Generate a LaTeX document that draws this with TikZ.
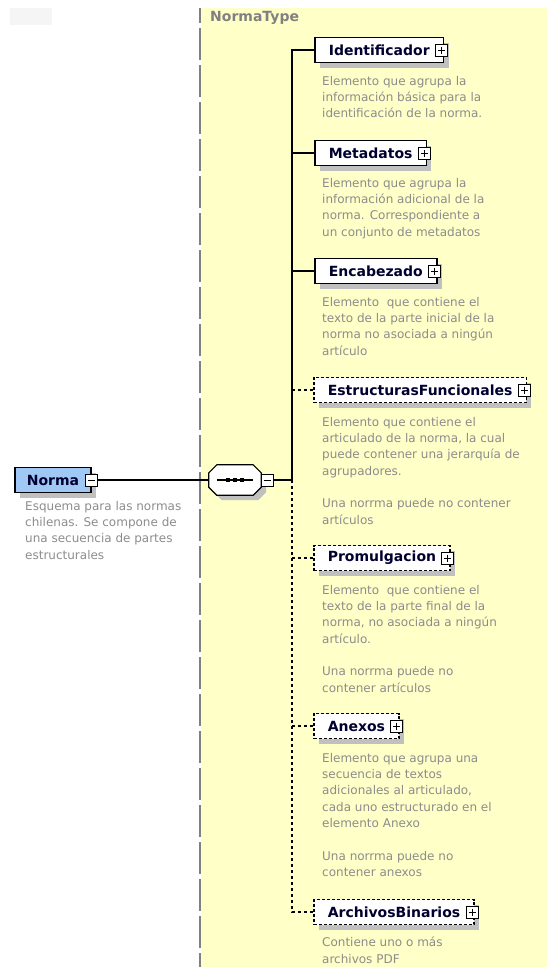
\documentclass[tikz,border=0pt]{standalone}
\usepackage{fontspec}
\setmainfont{DejaVu Sans}
\usetikzlibrary{shadows}

\definecolor{panelyellow}{RGB}{255,255,200}
\definecolor{panelgrey}{RGB}{128,128,128}
\definecolor{shadowgrey}{RGB}{192,192,192}
\definecolor{descgrey}{RGB}{140,140,140}
\definecolor{namenavy}{RGB}{0,0,48}
\definecolor{rootblue}{RGB}{160,200,245}

\tikzset{
	elem/.style={draw, line width=1.6pt, fill=white, text=namenavy,
		font=\bfseries\fontsize{14}{16}\selectfont, minimum height=25pt,
		inner xsep=14pt, inner ysep=0pt, anchor=west,
		drop shadow={shadow xshift=5pt, shadow yshift=-5pt, fill=shadowgrey, opacity=1}},
	optelem/.style={elem, dash pattern=on 3pt off 2pt},
	rootelem/.style={elem, fill=rootblue, inner xsep=12pt},
	minusbox/.style={draw, solid, line width=0.8pt, fill=white, minimum width=12pt,
		minimum height=12pt, inner sep=0pt,
		path picture={\draw[line width=0.9pt] ([xshift=2.5pt]path picture bounding box.west)
			-- ([xshift=-2.5pt]path picture bounding box.east);}},
	plusbox/.style={minusbox,
		path picture={\draw[line width=0.9pt] ([xshift=2.5pt]path picture bounding box.west)
			-- ([xshift=-2.5pt]path picture bounding box.east)
			([yshift=-2.5pt]path picture bounding box.north)
			-- ([yshift=2.5pt]path picture bounding box.south);}},
	seqbox/.style={minimum width=52pt, minimum height=30pt, inner sep=0pt},
	desc/.style={text=descgrey, font=\fontsize{12}{16.3}\selectfont, align=left,
		anchor=north west, inner sep=0pt},
	conn/.style={line width=1.5pt},
	optconn/.style={conn, dash pattern=on 3pt off 3pt},
}

\begin{document}
\begin{tikzpicture}[x=1pt, y=-1pt]
	\useasboundingbox (0,0) rectangle (547,967);
	\fill[black!4] (10,8) rectangle (52,25);
	\fill[panelyellow] (201,8) rectangle (547,967);
	\draw[panelgrey, line width=1.5pt, dash pattern=on 32pt off 5pt, dash phase=17pt] (200,8) -- (200,967);
	\node[anchor=base west, inner sep=0pt, text=panelgrey, font=\bfseries\fontsize{14}{16}\selectfont] (type) at (210,21) {NormaType};

	\node[rootelem] (norma) at (14,480) {Norma};
	\node[minusbox] (normax) at (norma.east) {};
	\node[desc] (normad) at (25,501) {Esquema para las normas\\chilenas. Se compone de\\una secuencia de partes\\estructurales};

	\node[seqbox] (seq) at (235,480) {};
	\fill[shadowgrey, transform canvas={shift={(5pt,-5pt)}}] ([xshift=8pt]seq.north west) -- ([xshift=-8pt]seq.north east)
		-- ([yshift=-8pt]seq.north east) -- ([yshift=8pt]seq.south east) -- ([xshift=-8pt]seq.south east)
		-- ([xshift=8pt]seq.south west) -- ([yshift=8pt]seq.south west) -- ([yshift=-8pt]seq.north west) -- cycle;
	\draw[fill=white, line width=1.2pt] ([xshift=8pt]seq.north west) -- ([xshift=-8pt]seq.north east)
		-- ([yshift=-8pt]seq.north east) -- ([yshift=8pt]seq.south east) -- ([xshift=-8pt]seq.south east)
		-- ([xshift=8pt]seq.south west) -- ([yshift=8pt]seq.south west) -- ([yshift=-8pt]seq.north west) -- cycle;
	\draw[line width=1.2pt] ([xshift=8pt]seq.west) -- ([xshift=-8pt]seq.east);
	\foreach \d in {-7,0,7}
		\fill ([xshift=\d pt]seq.center) +(-2.2,-2.2) rectangle +(2.2,2.2);
	\node[minusbox] (seqx) at ([xshift=6pt]seq.east) {};
	\coordinate (fork) at (292,480);

	\node[elem] (ident) at (314,50) {Identificador};
	\node[plusbox] (identx) at ([xshift=-3pt]ident.east) {};
	\node[desc] (identd) at (322,76) {Elemento que agrupa la\\información básica para la\\identificación de la norma.};

	\node[elem] (meta) at (314,153) {Metadatos};
	\node[plusbox] (metax) at ([xshift=-3pt]meta.east) {};
	\node[desc] (metad) at (322,178) {Elemento que agrupa la\\información adicional de la\\norma. Correspondiente a\\un conjunto de metadatos};

	\node[elem] (encab) at (314,271) {Encabezado};
	\node[plusbox] (encabx) at ([xshift=-3pt]encab.east) {};
	\node[desc] (encabd) at (322,297) {Elemento\ \ que contiene el\\texto de la parte inicial de la\\norma no asociada a ningún\\artículo};

	\node[optelem] (estr) at (313,390) {EstructurasFuncionales};
	\node[plusbox] (estrx) at ([xshift=-3pt]estr.east) {};
	\node[desc] (estrd) at (322,417) {Elemento que contiene el\\articulado de la norma, la cual\\puede contener una jerarquía de\\agrupadores.\\[16.3pt]Una norrma puede no contener\\artículos};

	\node[optelem] (promul) at (313,558) {Promulgacion};
	\node[plusbox] (promulx) at ([xshift=-3pt]promul.east) {};
	\node[desc] (promuld) at (322,585) {Elemento\ \ que contiene el\\texto de la parte final de la\\norma, no asociada a ningún\\artículo.\\[16.3pt]Una norrma puede no\\contener artículos};

	\node[optelem] (anexos) at (313,726) {Anexos};
	\node[plusbox] (anexosx) at ([xshift=-3pt]anexos.east) {};
	\node[desc] (anexosd) at (322,753) {Elemento que agrupa una\\secuencia de textos\\adicionales al articulado,\\cada uno estructurado en el\\elemento Anexo\\[16.3pt]Una norrma puede no\\contener anexos};

	\node[optelem] (archivos) at (313,912) {ArchivosBinarios};
	\node[plusbox] (archivosx) at ([xshift=-3pt]archivos.east) {};
	\node[desc] (archivosd) at (322,937) {Contiene uno o más\\archivos PDF};

	\draw[conn] (normax.east) -- (seq.west);
	\draw[conn] (seqx.east) -- (fork);
	\draw[conn] (fork) |- (ident.west);
	\draw[conn] (fork |- meta.west) -- (meta.west);
	\draw[conn] (fork |- encab.west) -- (encab.west);
	\draw[optconn] (fork |- estr.west) -- (estr.west);
	\draw[optconn] (fork) |- (archivos.west);
	\draw[optconn] (fork |- promul.west) -- (promul.west);
	\draw[optconn] (fork |- anexos.west) -- (anexos.west);
\end{tikzpicture}
\end{document}
